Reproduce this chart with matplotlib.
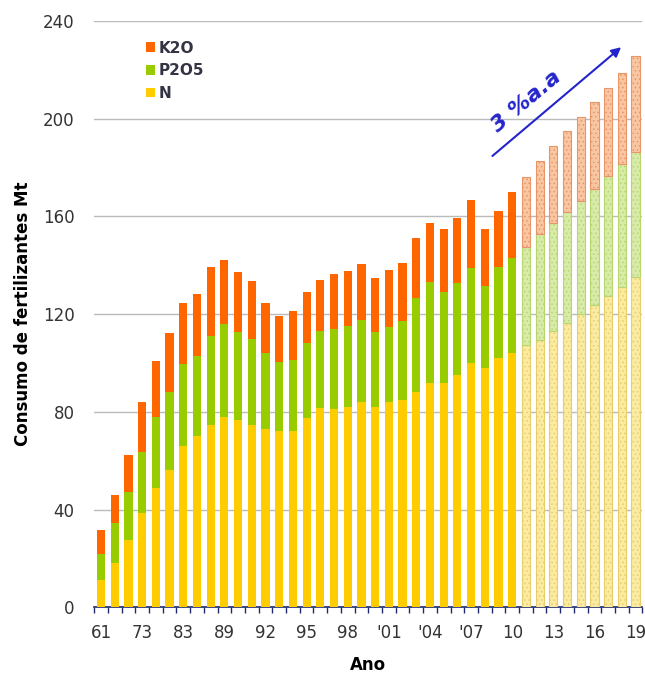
import matplotlib
matplotlib.use("Agg")
import matplotlib.pyplot as plt
import numpy as np

# ---- data (Mt) ----
tick_labels = ["61", "73", "83", "89", "92", "95", "98", "'01", "'04", "'07", "10", "13", "16", "19"]
n_observed = 31  # bars up to 2010 are observed, the rest are projections

N = [11, 18, 27.5, 38.5, 49, 56, 66, 70, 74.5, 78,
     76.5, 74.5, 73, 72, 72, 77.5, 81.5, 81, 82, 84,
     82, 84, 85, 88, 92, 92, 95, 100, 98, 102,
     104, 107.3, 109.6, 113.2, 116.4, 120, 123.7, 127.4, 131.2, 135.3]
P2O5 = [11, 16.3, 19.5, 25.1, 29, 32, 33.4, 32.8, 36.7, 38,
        36.3, 35.5, 31.2, 28.5, 29.1, 30.7, 31.5, 32.8, 33, 33.8,
        30.5, 30.8, 32.3, 38.4, 41.2, 37.1, 37.8, 38.7, 33.6, 37.4,
        38.8, 40.3, 43.1, 44.2, 45.5, 46.4, 47.7, 49.1, 50.2, 51.1]
K2O = [9.5, 11.6, 15.2, 20.4, 23, 24.3, 25, 25.6, 28.2, 26,
       24.5, 23.5, 20.2, 18.9, 20.1, 20.7, 20.9, 22.8, 22.6, 22.7,
       22.4, 23.2, 23.8, 24.6, 23.9, 25.9, 26.4, 28, 23.4, 22.9,
       27.2, 28.6, 30.1, 31.6, 33, 34.1, 35.4, 35.9, 37.4, 39.2]

# ---- style ----
c_N, c_P, c_K = "#FFCC00", "#99CC00", "#FF6600"
lc_N, lc_P, lc_K = "#FCEBA0", "#D8EBA8", "#F9C6A2"
ec_N, ec_P, ec_K = "#E6CF6A", "#B7D66E", "#E8956A"

fig = plt.figure(figsize=(6.45, 6.77), dpi=100)
ax = fig.add_axes([0.146, 0.103, 0.85, 0.866])

x = np.arange(len(N))
Na, Pa, Ka = np.array(N), np.array(P2O5), np.array(K2O)
w = 0.6
obs = x < n_observed
proj = ~obs

plt.rcParams['hatch.linewidth'] = 0.6

ax.bar(x[obs], Na[obs], width=w, color=c_N, label="N", zorder=3)
ax.bar(x[obs], Pa[obs], width=w, bottom=Na[obs], color=c_P, label="P2O5", zorder=3)
ax.bar(x[obs], Ka[obs], width=w, bottom=(Na + Pa)[obs], color=c_K, label="K2O", zorder=3)

ax.bar(x[proj], Na[proj], width=w, facecolor=lc_N, edgecolor=ec_N, hatch="....", linewidth=0.8, zorder=3)
ax.bar(x[proj], Pa[proj], width=w, bottom=Na[proj], facecolor=lc_P, edgecolor=ec_P, hatch="....", linewidth=0.8, zorder=3)
ax.bar(x[proj], Ka[proj], width=w, bottom=(Na + Pa)[proj], facecolor=lc_K, edgecolor=ec_K, hatch="....", linewidth=0.8, zorder=3)

ax.set_xlim(-0.5, len(N) - 0.5)
ax.set_ylim(0, 240)
ax.set_yticks(np.arange(0, 241, 40))
ax.yaxis.grid(True, color="#BBBBBB", linewidth=1.0, zorder=0)
ax.set_axisbelow(True)

ax.set_xticks(x[::3])
ax.set_xticklabels(tick_labels)
ax.set_xticks(np.arange(-0.5, len(N), 1), minor=True)
ax.tick_params(axis="x", which="major", length=0, pad=12, labelsize=12, labelcolor="#333333")
ax.tick_params(axis="x", which="minor", length=4, color="#1F2A6B", width=1)
ax.tick_params(axis="y", length=0, pad=14, labelsize=12, labelcolor="#333333")

for s in ["left", "right", "top"]:
    ax.spines[s].set_visible(False)
ax.spines["bottom"].set_color("#1F2A6B")
ax.spines["bottom"].set_linewidth(1.2)

ax.set_xlabel("Ano", fontsize=12, fontweight="bold", labelpad=10)
ax.set_ylabel("Consumo de fertilizantes Mt", fontsize=12, fontweight="bold", labelpad=8)

handles, labels = ax.get_legend_handles_labels()
leg = ax.legend(handles[::-1], labels[::-1], loc="upper left", bbox_to_anchor=(0.07, 0.99),
                frameon=False, handlelength=0.6, handleheight=0.6, handletextpad=0.2,
                labelspacing=0.5, prop={"weight": "bold", "size": 11})
for t in leg.get_texts():
    t.set_color("#333344")

# growth arrow
ax.annotate("", xy=(38.1, 230), xytext=(28.4, 184),
            arrowprops=dict(arrowstyle="-|>", color="#2424CC", lw=1.5, mutation_scale=14), zorder=5)
ax.text(31.0, 207, "3 %a.a", color="#2424CC", fontsize=16, fontweight="bold", fontstyle="italic",
        rotation=40, ha="center", va="center", zorder=5)

fig.savefig("out.png", dpi=100)
